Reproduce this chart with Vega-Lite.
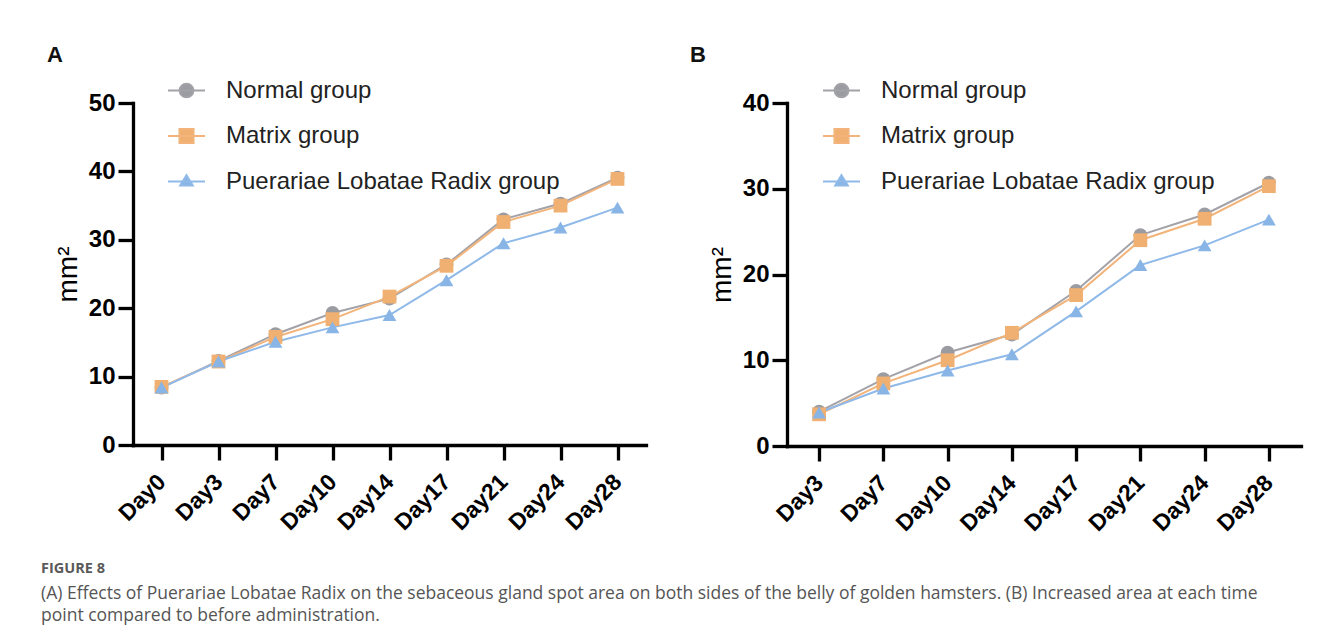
{
  "$schema": "https://vega.github.io/schema/vega-lite/v6.json",
  "background": "white",
  "padding": {"left": 41, "top": 44, "right": 8, "bottom": 8},
  "datasets": {
    "a": [
      {"day": "Day0", "group": "Normal group", "value": 8.4},
      {"day": "Day3", "group": "Normal group", "value": 12.3},
      {"day": "Day7", "group": "Normal group", "value": 16.2},
      {"day": "Day10", "group": "Normal group", "value": 19.3},
      {"day": "Day14", "group": "Normal group", "value": 21.4},
      {"day": "Day17", "group": "Normal group", "value": 26.4},
      {"day": "Day21", "group": "Normal group", "value": 33.0},
      {"day": "Day24", "group": "Normal group", "value": 35.3},
      {"day": "Day28", "group": "Normal group", "value": 39.1},
      {"day": "Day0", "group": "Matrix group", "value": 8.5},
      {"day": "Day3", "group": "Matrix group", "value": 12.2},
      {"day": "Day7", "group": "Matrix group", "value": 15.8},
      {"day": "Day10", "group": "Matrix group", "value": 18.4},
      {"day": "Day14", "group": "Matrix group", "value": 21.7},
      {"day": "Day17", "group": "Matrix group", "value": 26.2},
      {"day": "Day21", "group": "Matrix group", "value": 32.6},
      {"day": "Day24", "group": "Matrix group", "value": 35.0},
      {"day": "Day28", "group": "Matrix group", "value": 38.9},
      {"day": "Day0", "group": "Puerariae Lobatae Radix group", "value": 8.4},
      {"day": "Day3", "group": "Puerariae Lobatae Radix group", "value": 12.2},
      {"day": "Day7", "group": "Puerariae Lobatae Radix group", "value": 15.1},
      {"day": "Day10", "group": "Puerariae Lobatae Radix group", "value": 17.2},
      {"day": "Day14", "group": "Puerariae Lobatae Radix group", "value": 19.0},
      {"day": "Day17", "group": "Puerariae Lobatae Radix group", "value": 24.1},
      {"day": "Day21", "group": "Puerariae Lobatae Radix group", "value": 29.5},
      {"day": "Day24", "group": "Puerariae Lobatae Radix group", "value": 31.8},
      {"day": "Day28", "group": "Puerariae Lobatae Radix group", "value": 34.7}
    ],
    "b": [
      {"day": "Day3", "group": "Normal group", "value": 4.0},
      {"day": "Day7", "group": "Normal group", "value": 7.8},
      {"day": "Day10", "group": "Normal group", "value": 10.9},
      {"day": "Day14", "group": "Normal group", "value": 13.0},
      {"day": "Day17", "group": "Normal group", "value": 18.1},
      {"day": "Day21", "group": "Normal group", "value": 24.6},
      {"day": "Day24", "group": "Normal group", "value": 27.0},
      {"day": "Day28", "group": "Normal group", "value": 30.7},
      {"day": "Day3", "group": "Matrix group", "value": 3.7},
      {"day": "Day7", "group": "Matrix group", "value": 7.3},
      {"day": "Day10", "group": "Matrix group", "value": 10.0},
      {"day": "Day14", "group": "Matrix group", "value": 13.2},
      {"day": "Day17", "group": "Matrix group", "value": 17.6},
      {"day": "Day21", "group": "Matrix group", "value": 24.0},
      {"day": "Day24", "group": "Matrix group", "value": 26.5},
      {"day": "Day28", "group": "Matrix group", "value": 30.3},
      {"day": "Day3", "group": "Puerariae Lobatae Radix group", "value": 3.9},
      {"day": "Day7", "group": "Puerariae Lobatae Radix group", "value": 6.7},
      {"day": "Day10", "group": "Puerariae Lobatae Radix group", "value": 8.8},
      {"day": "Day14", "group": "Puerariae Lobatae Radix group", "value": 10.7},
      {"day": "Day17", "group": "Puerariae Lobatae Radix group", "value": 15.7},
      {"day": "Day21", "group": "Puerariae Lobatae Radix group", "value": 21.1},
      {"day": "Day24", "group": "Puerariae Lobatae Radix group", "value": 23.4},
      {"day": "Day28", "group": "Puerariae Lobatae Radix group", "value": 26.4}
    ]
  },
  "title": {
    "text": "FIGURE 8",
    "subtitle": ["(A) Effects of Puerariae Lobatae Radix on the sebaceous gland spot area on both sides of the belly of golden hamsters. (B) Increased area at each time", "point compared to before administration."],
    "orient": "bottom",
    "anchor": "start",
    "frame": "bounds",
    "dx": -6,
    "offset": 27,
    "font": "Open Sans",
    "fontSize": 14.5,
    "fontWeight": "bold",
    "color": "#5a5a5a",
    "subtitleFont": "Open Sans",
    "subtitleFontSize": 17.5,
    "subtitleColor": "#555555",
    "subtitleLineHeight": 22,
    "subtitlePadding": 8
  },
  "hconcat": [
    {
      "title": {"text": "A", "anchor": "start", "frame": "group", "dx": -86, "offset": 4, "fontSize": 22, "fontWeight": "bold", "font": "Liberation Sans", "color": "#111111"},
      "width": 513,
      "height": 342,
      "data": {"name": "a"},
      "encoding": {
        "x": {"field": "day", "type": "ordinal", "scale": {"type": "point", "padding": 0.5, "domain": ["Day0", "Day3", "Day7", "Day10", "Day14", "Day17", "Day21", "Day24", "Day28"]}, "axis": {"title": null, "labelAngle": -45, "labelFontSize": 23, "labelBaseline": "middle", "labelPadding": 18}},
        "y": {"field": "value", "type": "quantitative", "scale": {"domain": [0, 50], "nice": false}, "axis": {"title": "mm²", "values": [0, 10, 20, 30, 40, 50], "labelFontSize": 24, "labelPadding": 3, "titleFontSize": 28, "titlePadding": 6}}
      },
      "layer": [
        {
          "mark": {"type": "line", "strokeWidth": 2},
          "encoding": {
            "color": {"field": "group", "type": "nominal", "scale": {"domain": ["Normal group", "Matrix group", "Puerariae Lobatae Radix group"], "range": ["#a2a2a8", "#f2b47a", "#8fb9e8"]},
              "legend": {
                "orient": "none", "legendX": 34, "legendY": -32, "title": null,
                "symbolSize": 1369, "symbolStrokeWidth": 2, "labelLimit": 500,
                "labelFont": "Liberation Sans", "labelFontSize": 24, "labelColor": "#222222", "labelOffset": 20, "rowPadding": 13.5,
                "encode": {"symbols": {"update": {
                  "shape": {"signal": "datum.value === 'Normal group' ? 'M-1,0L1,0M-0.37,0A0.37,0.37,0,1,1,0.37,0A0.37,0.37,0,1,1,-0.37,0Z' : datum.value === 'Matrix group' ? 'M-1,0L1,0M-0.38,-0.38L0.38,-0.38L0.38,0.38L-0.38,0.38Z' : 'M-1,0L1,0M0,-0.34L0.34,0.22L-0.34,0.22Z'"},
                  "fill": {"signal": "datum.value === 'Normal group' ? '#9b9ba2' : datum.value === 'Matrix group' ? '#f0b072' : '#88b5e6'"},
                  "stroke": {"signal": "datum.value === 'Normal group' ? '#a2a2a8' : datum.value === 'Matrix group' ? '#f2b47a' : '#8fb9e8'"},
                  "strokeWidth": {"value": 2},
                  "opacity": {"value": 1},
                  "fillOpacity": {"value": 1}
                }}}
              }}
          }
        },
        {
          "transform": [{"filter": "datum.group === 'Normal group'"}],
          "mark": {"type": "point", "shape": "circle", "filled": true, "opacity": 1, "size": 190, "color": "#9b9ba2"}
        },
        {
          "transform": [{"filter": "datum.group === 'Matrix group'"}],
          "mark": {"type": "point", "shape": "square", "filled": true, "opacity": 1, "size": 190, "color": "#f0b072"}
        },
        {
          "transform": [{"filter": "datum.group === 'Puerariae Lobatae Radix group'"}],
          "mark": {"type": "point", "shape": "triangle-up", "filled": true, "opacity": 1, "size": 190, "color": "#88b5e6"}
        }
      ]
    },
    {
      "title": {"text": "B", "anchor": "start", "frame": "group", "dx": -97, "offset": 4, "fontSize": 22, "fontWeight": "bold", "font": "Liberation Sans", "color": "#111111"},
      "width": 514,
      "height": 343,
      "data": {"name": "b"},
      "encoding": {
        "x": {"field": "day", "type": "ordinal", "scale": {"type": "point", "padding": 0.5, "domain": ["Day3", "Day7", "Day10", "Day14", "Day17", "Day21", "Day24", "Day28"]}, "axis": {"title": null, "labelAngle": -45, "labelFontSize": 23, "labelBaseline": "middle", "labelPadding": 18}},
        "y": {"field": "value", "type": "quantitative", "scale": {"domain": [0, 40], "nice": false}, "axis": {"title": "mm²", "values": [0, 10, 20, 30, 40], "labelFontSize": 24, "labelPadding": 3, "titleFontSize": 28, "titlePadding": 6}}
      },
      "layer": [
        {
          "mark": {"type": "line", "strokeWidth": 2},
          "encoding": {
            "color": {"field": "group", "type": "nominal", "scale": {"domain": ["Normal group", "Matrix group", "Puerariae Lobatae Radix group"], "range": ["#a2a2a8", "#f2b47a", "#8fb9e8"]},
              "legend": {
                "orient": "none", "legendX": 35, "legendY": -32, "title": null,
                "symbolSize": 1369, "symbolStrokeWidth": 2, "labelLimit": 500,
                "labelFont": "Liberation Sans", "labelFontSize": 24, "labelColor": "#222222", "labelOffset": 20, "rowPadding": 13.5,
                "encode": {"symbols": {"update": {
                  "shape": {"signal": "datum.value === 'Normal group' ? 'M-1,0L1,0M-0.37,0A0.37,0.37,0,1,1,0.37,0A0.37,0.37,0,1,1,-0.37,0Z' : datum.value === 'Matrix group' ? 'M-1,0L1,0M-0.38,-0.38L0.38,-0.38L0.38,0.38L-0.38,0.38Z' : 'M-1,0L1,0M0,-0.34L0.34,0.22L-0.34,0.22Z'"},
                  "fill": {"signal": "datum.value === 'Normal group' ? '#9b9ba2' : datum.value === 'Matrix group' ? '#f0b072' : '#88b5e6'"},
                  "stroke": {"signal": "datum.value === 'Normal group' ? '#a2a2a8' : datum.value === 'Matrix group' ? '#f2b47a' : '#8fb9e8'"},
                  "strokeWidth": {"value": 2},
                  "opacity": {"value": 1},
                  "fillOpacity": {"value": 1}
                }}}
              }}
          }
        },
        {
          "transform": [{"filter": "datum.group === 'Normal group'"}],
          "mark": {"type": "point", "shape": "circle", "filled": true, "opacity": 1, "size": 190, "color": "#9b9ba2"}
        },
        {
          "transform": [{"filter": "datum.group === 'Matrix group'"}],
          "mark": {"type": "point", "shape": "square", "filled": true, "opacity": 1, "size": 190, "color": "#f0b072"}
        },
        {
          "transform": [{"filter": "datum.group === 'Puerariae Lobatae Radix group'"}],
          "mark": {"type": "point", "shape": "triangle-up", "filled": true, "opacity": 1, "size": 190, "color": "#88b5e6"}
        }
      ]
    }
  ],
  "resolve": {"scale": {"color": "independent"}},
  "spacing": 44,
  "config": {
    "view": {"stroke": null},
    "axis": {
      "grid": false,
      "domainColor": "black",
      "domainWidth": 3.3,
      "domainCap": "square",
      "tickColor": "black",
      "tickWidth": 3.3,
      "tickSize": 15,
      "labelFont": "Liberation Sans",
      "labelFontWeight": "bold",
      "labelColor": "black",
      "titleFont": "Liberation Sans",
      "titleFontWeight": "normal",
      "titleColor": "black"
    }
  }
}
